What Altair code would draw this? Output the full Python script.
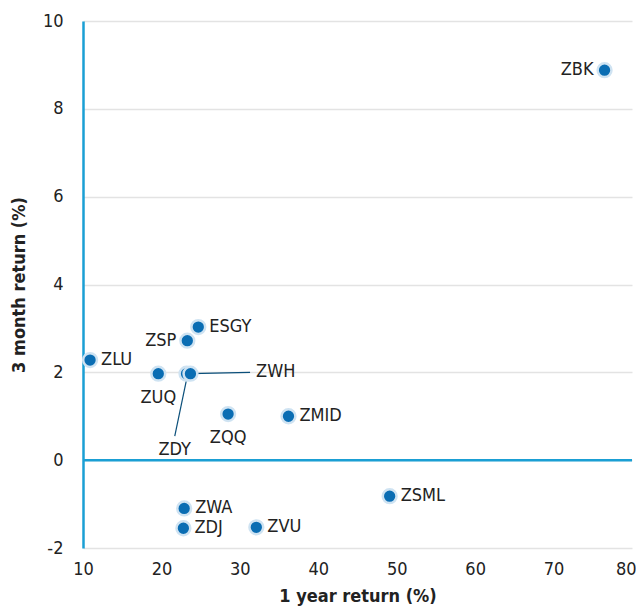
import altair as alt
import pandas as pd

names = ["ZBK", "ESGY", "ZSP", "ZLU", "ZUQ", "ZDY", "ZWH", "ZQQ", "ZMID", "ZSML", "ZWA", "ZDJ", "ZVU"]
one_year = [76.5, 24.7, 23.3, 10.9, 19.6, 23.2, 23.7, 28.5, 36.2, 49.1, 22.9, 22.8, 32.1]
three_month = [8.88, 3.03, 2.72, 2.28, 1.97, 1.97, 1.97, 1.05, 1.0, -0.82, -1.1, -1.55, -1.53]
label_pos = ["left", "right", "left", "right", "below", "leader", "leader", "below", "right", "right", "right", "right", "right"]

# leader lines for crowded labels
leader_names = ["ZWH", "ZDY"]
leader_x0 = [23.7, 23.3]
leader_y0 = [1.97, 1.92]
leader_x1 = [31.3, 21.7]
leader_y1 = [2.0, 0.55]
leader_align = ["left", "center"]

df = pd.DataFrame({"name": names, "x": one_year, "y": three_month, "pos": label_pos})
ld = pd.DataFrame({"name": leader_names, "x": leader_x0, "y": leader_y0,
                   "x2": leader_x1, "y2": leader_y1, "align": leader_align})

FONT = "DejaVu Sans Condensed, Roboto, sans-serif"
BLUE = "#1a9fd4"
PT = "#0a6db3"

xs = alt.Scale(domain=[10, 80], nice=False)
ys = alt.Scale(domain=[-2, 10], nice=False)

base = alt.Chart(df)

zero = alt.Chart(pd.DataFrame({"y": [0]})).mark_rule(color=BLUE, strokeWidth=2.5).encode(
    y=alt.Y("y:Q", scale=ys))

leaders = alt.Chart(ld).mark_rule(color="#0b4f7a", strokeWidth=1.2).encode(
    x=alt.X("x:Q", scale=xs), y=alt.Y("y:Q", scale=ys), x2="x2:Q", y2="y2:Q")

points = base.mark_point(filled=True, size=190, color=PT, stroke="#cfe3f2",
                         strokeWidth=2.5, opacity=1, strokeOpacity=1).encode(
    x=alt.X("x:Q", scale=xs, title="1 year return (%)",
            axis=alt.Axis(values=[10, 20, 30, 40, 50, 60, 70, 80], grid=False, domain=False,
                          ticks=False, labelPadding=12, titlePadding=9, labelFlush=False,
                          labelAlign=alt.condition("datum.value >= 80", alt.value("right"), alt.value("center")),
                          labelOffset=alt.condition("datum.value >= 80", alt.value(4), alt.value(0)))),
    y=alt.Y("y:Q", scale=ys, title="3 month return (%)",
            axis=alt.Axis(values=[-2, 0, 2, 4, 6, 8, 10], gridColor="#e3e3e3", gridWidth=1.5,
                          domainColor=BLUE, domainWidth=2.5, ticks=False, labelPadding=20,
                          titlePadding=14, labelExpr="replace(datum.label, '\u2212', '-')")),
)

txt = dict(font=FONT, fontSize=18, color="#222222")
right = base.transform_filter(alt.datum.pos == "right").mark_text(align="left", dx=11, **txt).encode(
    x="x:Q", y="y:Q", text="name:N")
left = base.transform_filter(alt.datum.pos == "left").mark_text(align="right", dx=-11, **txt).encode(
    x="x:Q", y="y:Q", text="name:N")
below = base.transform_filter(alt.datum.pos == "below").mark_text(align="center", dy=24, **txt).encode(
    x="x:Q", y="y:Q", text="name:N")
lead_r = alt.Chart(ld).transform_filter(alt.datum.align == "left").mark_text(align="left", dx=6, **txt).encode(
    x=alt.X("x2:Q", scale=xs), y=alt.Y("y2:Q", scale=ys), text="name:N")
lead_b = alt.Chart(ld).transform_filter(alt.datum.align == "center").mark_text(align="center", dy=14, **txt).encode(
    x=alt.X("x2:Q", scale=xs), y=alt.Y("y2:Q", scale=ys), text="name:N")

chart = alt.layer(zero, leaders, points, right, left, below, lead_r, lead_b).properties(
    width=549, height=527, autosize=alt.AutoSizeParams(type="none"),
    padding={"left": 75, "top": 13, "right": 4, "bottom": 59}
).configure_view(stroke=None).configure_axis(
    labelFont=FONT, labelFontSize=18, labelColor="#222222",
    titleFont=FONT, titleFontSize=18, titleFontWeight="bold", titleColor="#222222"
)

chart.save("out.html", embed_options={"renderer": "svg", "actions": False})
